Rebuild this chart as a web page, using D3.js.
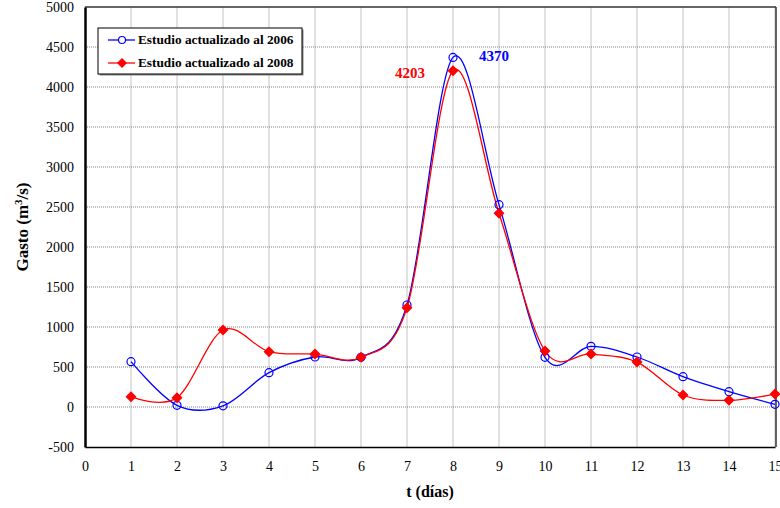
<!DOCTYPE html>
<html><head><meta charset="utf-8">
<script src="https://cdn.jsdelivr.net/npm/d3@7"></script>
<style>body{margin:0;background:#fff}svg{display:block}</style>
</head><body>
<svg id="c" width="780" height="508"></svg>
<script>
const days = [1,2,3,4,5,6,7,8,9,10,11,12,13,14,15];
const serie2006 = [567,21,15,429,625,621,1275,4370,2529,621,758,625,379,192,33];
const serie2008 = [129,117,962,692,662,621,1242,4203,2421,700,662,562,150,83,162];
const seriesNames = ["Estudio actualizado al 2006","Estudio actualizado al 2008"];
const xTicks = d3.range(0,16,1);
const yTicks = d3.range(-500,5001,500);
const peakLabels = [{v:4203, s:1},{v:4370, s:0}];

const svg = d3.select("#c");
const L=85,R=776,T=7,B=447;
const x = d3.scaleLinear().domain([0,15]).range([L,775]);
const y = d3.scaleLinear().domain([-500,5000]).range([B,T]);
const FONT = '"Liberation Serif", "Times New Roman", serif';

// grid
svg.append("g").selectAll("line").data(xTicks.slice(1)).join("line")
  .attr("x1",d=>x(d)).attr("x2",d=>x(d)).attr("y1",T).attr("y2",B)
  .attr("stroke","#c4c4c4").attr("stroke-width",1);
svg.append("g").selectAll("line").data(yTicks.filter(d=>d>-500&&d<5000)).join("line")
  .attr("x1",L).attr("x2",R).attr("y1",d=>y(d)).attr("y2",d=>y(d))
  .attr("stroke","#808080").attr("stroke-width",1).attr("stroke-dasharray","1,1");

// frame
svg.append("line").attr("x1",L).attr("x2",R).attr("y1",T).attr("y2",T).attr("stroke","#333").attr("stroke-width",1.5);
svg.append("line").attr("x1",R).attr("x2",R).attr("y1",T).attr("y2",B).attr("stroke","#333").attr("stroke-width",1.5);

// axes
const xAxis = svg.append("g").attr("transform",`translate(0,${B})`)
  .call(d3.axisBottom(x).tickValues(xTicks).tickSize(0).tickPadding(14).tickFormat(d=>String(d)));
xAxis.select(".domain").attr("stroke","#000").attr("stroke-width",1.5);
xAxis.selectAll("text").style("font-family",FONT).attr("font-size",14).attr("fill","#000");
const yAxis = svg.append("g").attr("transform",`translate(${L},0)`)
  .call(d3.axisLeft(y).tickValues(yTicks).tickSize(0).tickPadding(11).tickFormat(d=>String(d)));
yAxis.select(".domain").attr("stroke","#000").attr("stroke-width",2.5);
yAxis.selectAll("text").style("font-family",FONT).attr("font-size",14).attr("fill","#000");

// axis titles
svg.append("text").attr("x",430).attr("y",497).attr("text-anchor","middle").style("font-family",FONT)
  .attr("font-weight","bold").attr("font-size",16).text("t (días)");
const yt = svg.append("text").attr("transform","translate(28,227) rotate(-90)").attr("text-anchor","middle")
  .style("font-family",FONT).attr("font-weight","bold").attr("font-size",17);
yt.append("tspan").text("Gasto (m");
yt.append("tspan").attr("dy",-6).attr("font-size",11).text("3");
yt.append("tspan").attr("dy",6).text("/s)");

const series = [
  {name:seriesNames[0], values:serie2006, color:"#0000ff", marker:"circle"},
  {name:seriesNames[1], values:serie2008, color:"#ff0000", marker:"diamond"}
];
const line = d3.line().x((d,i)=>x(days[i])).y(d=>y(d)).curve(d3.curveCardinal.tension(0));
const diamond = (cx,cy,r)=>`M${cx},${cy-r}L${cx+r},${cy}L${cx},${cy+r}L${cx-r},${cy}Z`;

series.forEach(s=>{
  svg.append("path").datum(s.values).attr("d",line).attr("fill","none")
    .attr("stroke",s.color).attr("stroke-width",1.3);
});
series.forEach(s=>{
  const g = svg.append("g");
  if(s.marker==="circle"){
    g.selectAll("circle").data(s.values).join("circle")
      .attr("cx",(d,i)=>x(days[i])).attr("cy",d=>y(d)).attr("r",4)
      .attr("fill","none").attr("stroke",s.color).attr("stroke-width",1.2);
  } else {
    g.selectAll("path").data(s.values).join("path")
      .attr("d",(d,i)=>diamond(x(days[i]),y(d),5.5)).attr("fill",s.color);
  }
});

// peak labels
const peakX = 8;
svg.append("text").attr("x",x(peakX)-43).attr("y",y(peakLabels[0].v)+7).attr("text-anchor","middle")
  .style("font-family",FONT).attr("font-weight","bold").attr("font-size",15).attr("fill","#ff0000").text(peakLabels[0].v);
svg.append("text").attr("x",x(peakX)+41).attr("y",y(peakLabels[1].v)+4).attr("text-anchor","middle")
  .style("font-family",FONT).attr("font-weight","bold").attr("font-size",15).attr("fill","#0000ff").text(peakLabels[1].v);

// legend
const lg = svg.append("g").attr("transform","translate(98,28)");
lg.append("rect").attr("x",1.5).attr("y",1.5).attr("width",204).attr("height",46).attr("fill","#888");
lg.append("rect").attr("width",204).attr("height",46).attr("fill","#fff").attr("stroke","#000").attr("stroke-width",1);
series.forEach((s,i)=>{
  const cy = 12 + i*23;
  lg.append("line").attr("x1",10).attr("x2",37).attr("y1",cy).attr("y2",cy).attr("stroke",s.color).attr("stroke-width",1.3);
  if(s.marker==="circle") lg.append("circle").attr("cx",24).attr("cy",cy).attr("r",3.5).attr("fill","#fff").attr("stroke",s.color).attr("stroke-width",1.2);
  else lg.append("path").attr("d",diamond(24,cy,5)).attr("fill",s.color);
  lg.append("text").attr("x",40).attr("y",cy+4).style("font-family",FONT).attr("font-weight","bold")
    .attr("font-size",13.3).text(s.name);
});
</script>
</body></html>
